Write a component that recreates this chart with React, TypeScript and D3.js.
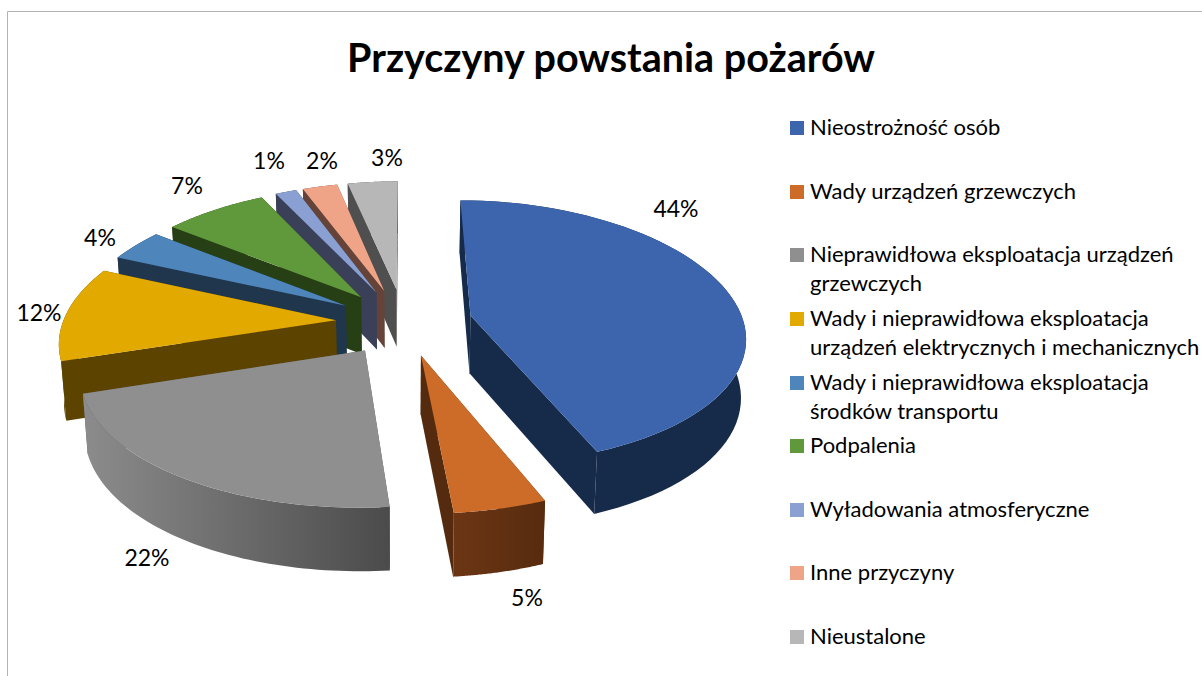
import React from "react";
import * as d3 from "d3";

const title = "Przyczyny powstania pożarów";
const percentLabels = ["44%", "5%", "22%", "12%", "4%", "7%", "1%", "2%", "3%"];
const shares = [43.8, 4.7, 21.7, 11.2, 3.8, 7.2, 1.5, 2.5, 3.6];
const legendLines = [
  ["Nieostrożność osób"],
  ["Wady urządzeń grzewczych"],
  ["Nieprawidłowa eksploatacja urządzeń", "grzewczych"],
  ["Wady i nieprawidłowa eksploatacja", "urządzeń elektrycznych i mechanicznych"],
  ["Wady i nieprawidłowa eksploatacja", "środków transportu"],
  ["Podpalenia"],
  ["Wyładowania atmosferyczne"],
  ["Inne przyczyny"],
  ["Nieustalone"],
];
const topColors = ["#3c65ae", "#cd6c28", "#8f8f8f", "#e2a900", "#4e85bb", "#5f993c", "#8aa0d2", "#efa488", "#b7b7b7"];
const wallColors = ["#162a4a", "#552b0f", "#5c5c5c", "#5c4400", "#1f364d", "#263f14", "#3a4058", "#654339", "#4f4f4f"];
const drawOrder = [8, 7, 6, 5, 4, 3, 2, 0, 1];
const legendCenters = [128, 192, 255, 319, 383, 446, 510, 573, 637];
const labelPlaces: [number, number][] = [
  [676, 208], [527, 597], [147, 557], [39, 312], [100, 237], [187, 185], [269, 160], [322, 160], [387, 157],
];

const CX = 404, CY = 322, R = 273, RY = 133.5, KX = 0.15, KY = 0.125, DEPTH = 58, EXPLODE = 0.25;

function project(u: number, v: number, h: number): [number, number] {
  return [
    CX + u * R * (1 + KX * v) * (h ? 0.985 : 1),
    CY + v * RY * (1 + KY * v) + h * DEPTH * (1 + 0.08 * v),
  ];
}

const pieGen = d3.pie<number>().sort(null).value((d) => d);
const arcs = pieGen(shares);
const line = d3.line();
const closed = (pts: [number, number][]) => (line(pts) as string) + "Z";

function Slice({ i }: { i: number }) {
  const a = arcs[i];
  const mid = (a.startAngle + a.endAngle) / 2;
  const ou = EXPLODE * Math.sin(mid), ov = -EXPLODE * Math.cos(mid);
  const thetas = d3.range(0, 61).map((k) => a.startAngle + ((a.endAngle - a.startAngle) * k) / 60);
  const rim = thetas.map((t) => [ou + Math.sin(t), ov - Math.cos(t)] as [number, number]);
  const top = rim.map(([u, v]) => project(u, v, 0));
  const bot = rim.map(([u, v]) => project(u, v, 1));
  const apexT = project(ou, ov, 0), apexB = project(ou, ov, 1);
  const wallFill = i === 2 ? "url(#wallGrey)" : i === 1 ? "url(#wallOrange)" : wallColors[i];
  return (
    <g>
      <path d={closed([apexT, top[0], bot[0], apexB])} fill={wallColors[i]} />
      <path d={closed([apexT, top[60], bot[60], apexB])} fill={wallColors[i]} />
      <path d={closed([...top, ...bot.slice().reverse()])} fill={wallFill} />
      <path d={closed([apexT, ...top])} fill={topColors[i]} />
    </g>
  );
}

export default function App() {
  const font = "Lato, 'Open Sans', sans-serif";
  return (
    <svg width={1202} height={676} style={{ position: "absolute", left: 0, top: 0, background: "#fff" }} fontFamily={font}>
      <defs>
        <linearGradient id="wallGrey" x1="0" x2="1" y1="0" y2="0">
          <stop offset="0" stopColor="#8c8c8c" />
          <stop offset="1" stopColor="#4b4b4b" />
        </linearGradient>
        <linearGradient id="wallOrange" x1="0" x2="1" y1="0" y2="0">
          <stop offset="0" stopColor="#6c3614" />
          <stop offset="1" stopColor="#572b0f" />
        </linearGradient>
      </defs>
      <path d="M7.5 676V11.5H1202" fill="none" stroke="#b3b3b3" strokeWidth={1} />
      <text x={611} y={72} textAnchor="middle" fontSize={39.5} fontWeight={700} fill="#000">{title}</text>
      {drawOrder.map((i) => <Slice key={i} i={i} />)}
      {percentLabels.map((t, i) => (
        <text key={i} x={labelPlaces[i][0]} y={labelPlaces[i][1]} textAnchor="middle" dominantBaseline="central" fontSize={23} fill="#000">
          {t}
        </text>
      ))}
      {legendLines.map((ls, i) => (
        <g key={i}>
          <rect x={790} y={legendCenters[i] - 7} width={14} height={14} fill={topColors[i]} />
          {ls.map((t, j) => (
            <text key={j} x={810} y={legendCenters[i] + 7 + j * 29} fontSize={22} fill="#000">{t}</text>
          ))}
        </g>
      ))}
    </svg>
  );
}
